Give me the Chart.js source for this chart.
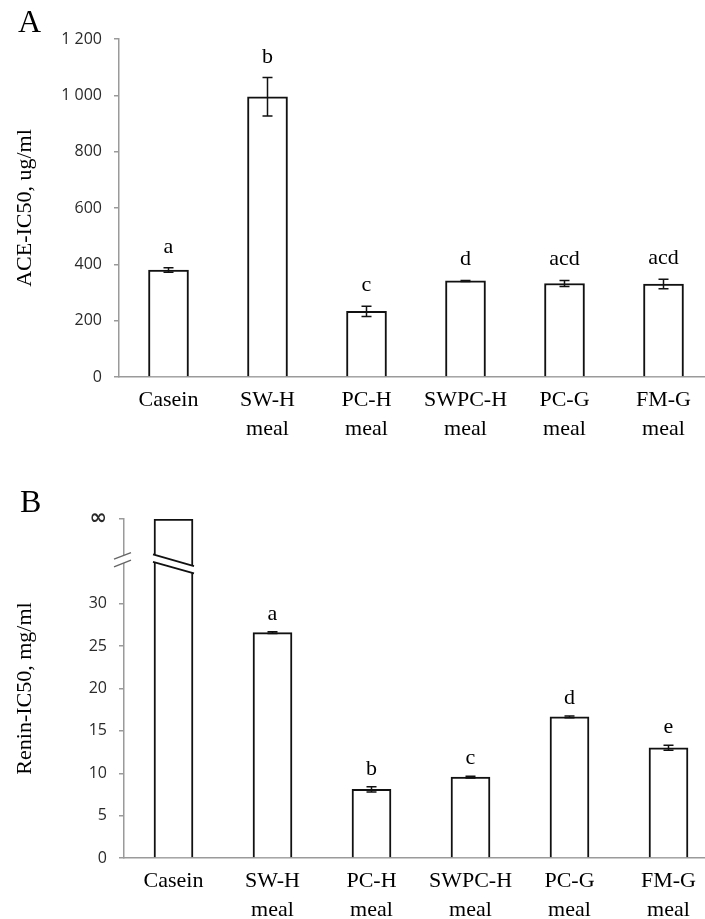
<!DOCTYPE html>
<html>
<head>
<meta charset="utf-8">
<script src="https://cdn.jsdelivr.net/npm/chart.js@4/dist/chart.umd.min.js"></script>
<style>
  html, body { margin: 0; padding: 0; background: #fff; overflow: hidden; }
  .panel { position: relative; width: 720px; }
  .panel canvas { display: block; }
  .tag { position: absolute; font-family: "Liberation Serif", serif; font-size: 32px; color: #000; }
</style>
</head>
<body>
<div class="panel" style="height:460px">
  <span class="tag" style="left:18px; top:3px">A</span>
  <canvas id="chartA" width="720" height="460"></canvas>
</div>
<div class="panel" style="height:459px">
  <span class="tag" style="left:20px; top:23px">B</span>
  <canvas id="chartB" width="720" height="459"></canvas>
</div>
<script>
/* ---- data ---- */
var categories = [['Casein'], ['SW-H', 'meal'], ['PC-H', 'meal'], ['SWPC-H', 'meal'], ['PC-G', 'meal'], ['FM-G', 'meal']];

var aceValues  = [380, 995, 233, 341, 332, 330];
var aceErrors  = [8, 68, 18, 2, 11, 17];
var aceLetters = ['a', 'b', 'c', 'd', 'acd', 'acd'];
var aceTicks      = [0, 200, 400, 600, 800, 1000, 1200];
var aceTickLabels = ['0', '200', '400', '600', '800', '1 000', '1 200'];

var RENIN_INF = 40;          // axis position used for the "∞" tick
var RENIN_BREAK = 35.2;      // where the axis / casein bar are broken
var reninValues  = [RENIN_INF, 26.6, 8.1, 9.55, 16.65, 13.0];
var reninErrors  = [null, 0.1, 0.3, 0.1, 0.1, 0.3];
var reninLetters = ['', 'a', 'b', 'c', 'd', 'e'];
var reninTicks      = [0, 5, 10, 15, 20, 25, 30, 40];
var reninTickLabels = ['0', '5', '10', '15', '20', '25', '30', '\u221E'];

/* ---- shared look ---- */
var serif = '"Liberation Serif", "Times New Roman", serif';
var sans = '"Open Sans", sans-serif';
var axisGrey = '#9a9a9a';
var ink = '#111';

/* error bars + significance letters */
var markers = {
  id: 'markers',
  afterDatasetsDraw: function (chart, args, opts) {
    var ctx = chart.ctx;
    var y = chart.scales.y;
    var meta = chart.getDatasetMeta(0);
    ctx.save();
    meta.data.forEach(function (bar, i) {
      var v = opts.values[i], e = opts.errors[i];
      var top = y.getPixelForValue(v);
      if (e != null) {
        top = y.getPixelForValue(v + e);
        var bot = y.getPixelForValue(v - e);
        ctx.strokeStyle = ink;
        ctx.lineWidth = 1.5;
        ctx.beginPath();
        ctx.moveTo(bar.x, top); ctx.lineTo(bar.x, bot);
        ctx.moveTo(bar.x - 5, top); ctx.lineTo(bar.x + 5, top);
        ctx.moveTo(bar.x - 5, bot); ctx.lineTo(bar.x + 5, bot);
        ctx.stroke();
      }
      if (opts.letters[i]) {
        ctx.fillStyle = '#000';
        ctx.font = '22px ' + serif;
        ctx.textAlign = 'center';
        ctx.textBaseline = 'alphabetic';
        ctx.fillText(opts.letters[i], bar.x, top - opts.gap);
      }
    });
    ctx.restore();
  }
};

/* white band with two slanted edges, used for the broken bar and the broken axis */
function slashGap(ctx, x0, x1, yc, slant, gap, color, width) {
  ctx.fillStyle = '#fff';
  ctx.beginPath();
  ctx.moveTo(x0, yc + slant - gap); ctx.lineTo(x1, yc - slant - gap);
  ctx.lineTo(x1, yc - slant + gap); ctx.lineTo(x0, yc + slant + gap);
  ctx.closePath(); ctx.fill();
  ctx.strokeStyle = color; ctx.lineWidth = width;
  ctx.beginPath();
  ctx.moveTo(x0, yc + slant - gap); ctx.lineTo(x1, yc - slant - gap);
  ctx.moveTo(x0, yc + slant + gap); ctx.lineTo(x1, yc - slant + gap);
  ctx.stroke();
}

var axisBreak = {
  id: 'axisBreak',
  afterDraw: function (chart, args, opts) {
    if (!opts.enabled) { return; }
    var ctx = chart.ctx;
    var y = chart.scales.y;
    var bar = chart.getDatasetMeta(0).data[opts.index];
    var L = bar.x - bar.width / 2, R = bar.x + bar.width / 2;
    ctx.save();
    // bar: edges fall to the right (negative slant)
    ctx.fillStyle = '#fff';
    slashGap(ctx, L - 1, R + 1, y.getPixelForValue(opts.at), -5.8, 3.7, ink, 1.8);
    // axis: short "//" crossing the axis line
    var ax = chart.chartArea.left;
    slashGap(ctx, ax - 10, ax + 7, y.getPixelForValue(opts.at + 0.5), 3.3, 3.8, '#666', 1.4);
    ctx.restore();
  }
};

function makeChart(id, cfg) {
  return new Chart(document.getElementById(id), {
    type: 'bar',
    data: {
      labels: categories,
      datasets: [{
        data: cfg.values,
        backgroundColor: '#fff',
        borderColor: ink,
        borderWidth: 2,
        borderSkipped: 'bottom',
        barThickness: cfg.barWidth
      }]
    },
    options: {
      responsive: false,
      animation: false,
      devicePixelRatio: 1,
      layout: { padding: { top: cfg.top, right: cfg.right, left: 0, bottom: 0 } },
      plugins: {
        legend: { display: false },
        tooltip: { enabled: false },
        markers: { values: cfg.values, errors: cfg.errors, letters: cfg.letters, gap: cfg.gap },
        axisBreak: cfg.brk || { enabled: false }
      },
      scales: {
        x: {
          grid: { display: false, drawTicks: false },
          border: { color: axisGrey, width: 1.5 },
          ticks: { color: '#000', font: { family: serif, size: 22, lineHeight: 1.3 }, padding: 9, maxRotation: 0, autoSkip: false },
          afterFit: function (s) { s.height = cfg.xHeight; }
        },
        y: {
          min: 0, max: cfg.max,
          grid: { drawOnChartArea: false, drawTicks: true, tickLength: 5, color: axisGrey, lineWidth: 1.5 },
          border: { color: axisGrey, width: 1.5 },
          afterBuildTicks: function (s) { s.ticks = cfg.ticks.map(function (v) { return { value: v }; }); },
          ticks: {
            color: '#2a2a2a', padding: 12,
            font: function (c) {
              var lbl = c.tick ? cfg.tickLabels[cfg.ticks.indexOf(c.tick.value)] : '';
              return lbl === '\u221E' ? { family: '"DejaVu Sans", sans-serif', size: 21, weight: 'bold' } : { family: sans, size: 16 };
            },
            callback: function (v) { return cfg.tickLabels[cfg.ticks.indexOf(v)]; }
          },
          title: { display: true, text: cfg.title, color: '#000', font: { family: serif, size: 22 }, padding: { top: 12, bottom: 0 } },
          afterFit: function (s) { s.width = cfg.left; }
        }
      }
    },
    plugins: [markers, axisBreak]
  });
}

makeChart('chartA', {
  values: aceValues, errors: aceErrors, letters: aceLetters, gap: 15,
  ticks: aceTicks, tickLabels: aceTickLabels, max: 1200,
  title: 'ACE-IC50, ug/ml',
  left: 119, right: 7, top: 39, xHeight: 83, barWidth: 40
});

makeChart('chartB', {
  values: reninValues, errors: reninErrors, letters: reninLetters, gap: 12,
  ticks: reninTicks, tickLabels: reninTickLabels, max: RENIN_INF,
  title: 'Renin-IC50, mg/ml',
  left: 124, right: 2, top: 59, xHeight: 61, barWidth: 39,
  brk: { enabled: true, index: 0, at: RENIN_BREAK - 0.5 }
});
</script>
</body>
</html>
